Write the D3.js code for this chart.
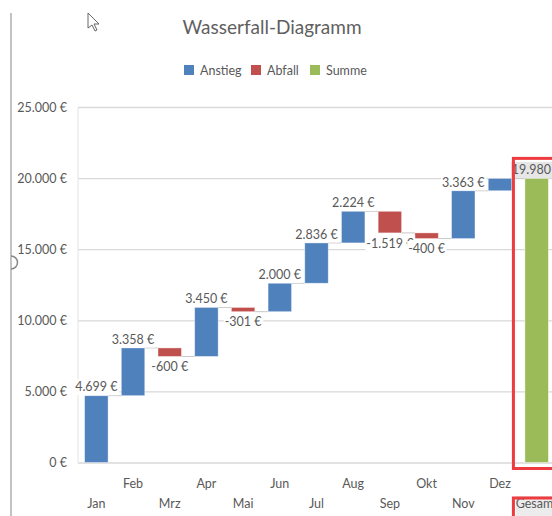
<!DOCTYPE html>
<html><head><meta charset="utf-8">
<script src="https://cdn.jsdelivr.net/npm/d3@7"></script>
<style>body{margin:0;background:#fff}svg{display:block;font-family:Lato,'Open Sans',sans-serif}</style>
</head><body><svg id="c" width="552" height="516"></svg>
<script>
const categories = ["Jan","Feb","Mrz","Apr","Mai","Jun","Jul","Aug","Sep","Okt","Nov","Dez","Gesamt"];
const changes = [4699,3358,-600,3450,-301,2000,2836,2224,-1519,-400,3363,870];
const total = 19980;
const showLabel = [true,true,true,true,true,true,true,true,true,true,true,false,true];
const yTicks = [0,5000,10000,15000,20000,25000];
const legendItems = ["Anstieg","Abfall","Summe"];
const colors = {Anstieg:"#4F81BD", Abfall:"#C0504D", Summe:"#9BBB59"};

const svg = d3.select("#c");
const loc = d3.formatLocale({decimal:",",thousands:".",grouping:[3],currency:[""," €"],minus:"-"});
const fmt = v => loc.format(",.0f")(v) + " €";

// build bar table
let cum = 0;
const bars = changes.map((v,i)=>{const s=cum; cum+=v; return {cat:categories[i], v, start:s, end:cum, type: v>=0?"Anstieg":"Abfall", label:showLabel[i]};});
bars.push({cat:"Gesamt", v:total, start:0, end:total, type:"Summe", label:true});

const x = d3.scaleBand().domain(categories).range([78,555]).paddingInner(0.36).paddingOuter(0.18);
const y = d3.scaleLinear().domain([0,25000]).range([462.5,107]);
const txt = "#595959";

// left window edge & cursor decoration
svg.append("line").attr("x1",11).attr("x2",11).attr("y1",13).attr("y2",516).attr("stroke","#9a9a9a").attr("stroke-width",1.2);
svg.append("path").attr("d","M11,256 a6,6 0 0 1 0,13").attr("fill","none").attr("stroke","#888").attr("stroke-width",1.5);
svg.append("path").attr("d","M88,13 L88,28 L92,25 L95,31 L97,30 L94,24 L99,24 Z").attr("fill","#fff").attr("stroke","#555").attr("stroke-width",0.9);

// title
svg.append("text").attr("x",272).attr("y",34).attr("text-anchor","middle").attr("font-size",19).attr("fill","#5f5f5f").text("Wasserfall-Diagramm");

// legend
const lg = svg.append("g");
const lx = [184,251,310];
legendItems.forEach((k,i)=>{
  lg.append("rect").attr("x",lx[i]).attr("y",65).attr("width",10).attr("height",10).attr("fill",colors[k]);
  lg.append("text").attr("x",lx[i]+16).attr("y",74.5).attr("font-size",12.5).attr("fill",txt).text(k);
});

// gridlines + y axis
const ya = svg.append("g").attr("transform","translate(78,0)")
  .call(d3.axisLeft(y).tickValues(yTicks).tickSize(-(552-78)).tickFormat(fmt).tickPadding(11));
ya.select(".domain").remove();
ya.selectAll(".tick line").attr("stroke","#d9d9d9").attr("stroke-width",1.3);
ya.selectAll(".tick text").attr("font-size",12.5).attr("fill",txt).attr("font-family","Lato,sans-serif");
svg.append("line").attr("x1",78).attr("x2",78).attr("y1",107).attr("y2",462.5).attr("stroke","#e3e3e3");

// connectors
const bw = x.bandwidth();
svg.append("g").selectAll("line").data(bars.slice(0,-1)).join("line")
  .attr("x1",d=>x(d.cat)+bw).attr("x2",(d,i)=>x(categories[i+1]))
  .attr("y1",d=>y(d.end)).attr("y2",d=>y(d.end))
  .attr("stroke","#c8c8c8").attr("stroke-width",1);

// bars
svg.append("g").selectAll("rect").data(bars).join("rect")
  .attr("x",d=>x(d.cat)).attr("width",bw)
  .attr("y",d=>y(Math.max(d.start,d.end))).attr("height",d=>Math.abs(y(d.start)-y(d.end)))
  .attr("fill",d=>colors[d.type]).attr("stroke","rgba(255,255,255,0.5)").attr("stroke-width",0.8);

// labels
const lbl = svg.append("g");
bars.filter(d=>d.label).forEach(d=>{
  const cx = x(d.cat)+bw/2;
  const cy = d.v>=0 ? y(Math.max(d.start,d.end))-8.5 : y(Math.min(d.start,d.end))+10.5;
  const g = lbl.append("g");
  const t = g.append("text").attr("x",cx).attr("y",cy+4.3).attr("text-anchor","middle").attr("font-size",12.5).attr("fill",txt).text(fmt(d.v));
  const bb = t.node().getBBox();
  g.insert("rect","text").attr("x",bb.x-1).attr("y",cy-8).attr("width",bb.width+2).attr("height",16)
    .attr("fill",d.type==="Summe"?"#e6e6e6":"#fff");
});

// x labels (staggered)
categories.forEach((c,i)=>{
  const cx = x(c)+bw/2;
  const yy = i%2===0 ? 508 : 488;
  if(c==="Gesamt"){
    svg.append("rect").attr("x",x(c)-9).attr("y",yy-12).attr("width",60).attr("height",20).attr("fill","#ececec");
  }
  svg.append("text").attr("x",cx).attr("y",yy).attr("text-anchor","middle").attr("font-size",12.5).attr("fill",txt).text(c);
});

// red highlight boxes
const gx = x("Gesamt");
svg.append("rect").attr("x",gx-11.5).attr("y",y(total)-20).attr("width",80).attr("height",y(0)-y(total)+26)
  .attr("fill","none").attr("stroke","#ee3b3f").attr("stroke-width",3);
svg.append("rect").attr("x",gx-11.5).attr("y",498).attr("width",80).attr("height",40)
  .attr("fill","none").attr("stroke","#ee3b3f").attr("stroke-width",3);
</script></body></html>
